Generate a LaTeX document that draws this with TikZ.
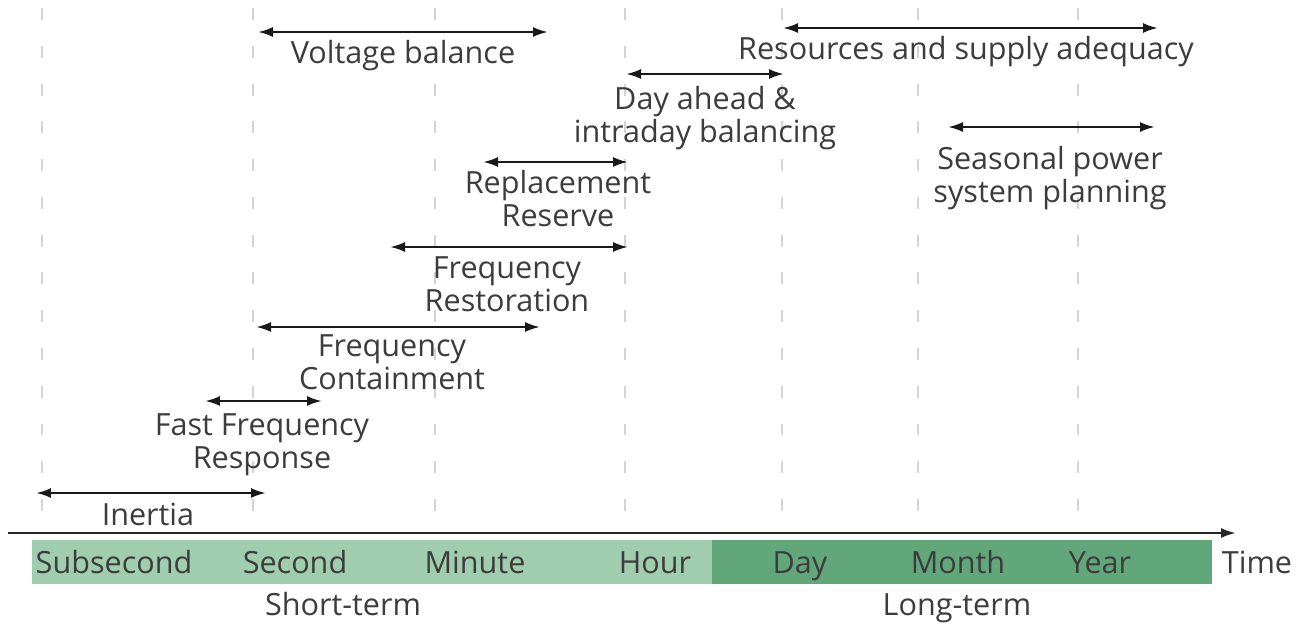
\documentclass[tikz,border=0pt]{standalone}
\usepackage{fontspec}
\setmainfont{Open Sans}
\usetikzlibrary{arrows.meta}

\definecolor{shortgreen}{HTML}{9FCDAE}
\definecolor{longgreen}{HTML}{62A77A}
\definecolor{txtgray}{HTML}{3C3C3C}
\definecolor{gridgray}{HTML}{D4D4D4}

\tikzstyle{span} = [{Latex[length=3mm,width=2mm]}-{Latex[length=3mm,width=2mm]},line width=1.35pt,draw=black!90]
\tikzstyle{lbl} = [align=center,text=txtgray,inner sep=0pt,anchor=base,font=\fontsize{17.4}{18.7}\selectfont]
\tikzstyle{gridline} = [draw=gridgray,line width=0.8pt,dash pattern=on 6.8pt off 14.7pt]

\begin{document}
\begin{tikzpicture}[x=0.02cm,y=-0.02cm]

	\useasboundingbox (0,0) rectangle (1305,626);

	% time scale
	\foreach \gx in {42,253,435,625,782,918,1078}
		\draw[gridline] (\gx,8) -- (\gx,530);

	\fill[shortgreen] (32,540) rectangle (712,584);
	\fill[longgreen] (712,540) rectangle (1212,584);

	\coordinate (ax-l) at (8,533);
	\coordinate (ax-r) at (1236,533);
	\draw[-{Latex[length=3mm,width=2mm]},line width=1.35pt,draw=black!85] (ax-l) -- (ax-r);

	\node (subsec) [lbl] at (114,573) {Subsecond};
	\node (sec) [lbl] at (295,573) {Second};
	\node (min) [lbl] at (475,573) {Minute};
	\node (hour) [lbl] at (655,573) {Hour};
	\node (day) [lbl] at (800,573) {Day};
	\node (month) [lbl] at (958,573) {Month};
	\node (year) [lbl] at (1100,573) {Year};
	\node (time) [lbl] at (1257,573) {Time};
	\node (short) [lbl] at (343,615) {Short-term};
	\node (long) [lbl] at (957,615) {Long-term};

	% services
	\coordinate (in_l) at (36,493);    \coordinate (in_r) at (266,493);
	\coordinate (ffr_l) at (205,401);  \coordinate (ffr_r) at (322,401);
	\coordinate (fc_l) at (256,327);   \coordinate (fc_r) at (540,327);
	\coordinate (fr_l) at (390,247);   \coordinate (fr_r) at (628,247);
	\coordinate (rr_l) at (483,162);   \coordinate (rr_r) at (628,162);
	\coordinate (da_l) at (626,74);    \coordinate (da_r) at (784,74);
	\coordinate (vb_l) at (258,32);    \coordinate (vb_r) at (548,32);
	\coordinate (ra_l) at (783,28);    \coordinate (ra_r) at (1158,28);
	\coordinate (sea_l) at (948,127);  \coordinate (sea_r) at (1155,127);

	\path
		(in_l) edge[span] (in_r)
		(ffr_l) edge[span] (ffr_r)
		(fc_l) edge[span] (fc_r)
		(fr_l) edge[span] (fr_r)
		(rr_l) edge[span] (rr_r)
		(da_l) edge[span] (da_r)
		(vb_l) edge[span] (vb_r)
		(ra_l) edge[span] (ra_r)
		(sea_l) edge[span] (sea_r)
		;

	% base = last line
	\node (in) [lbl] at (148,525) {Inertia};
	\node (ffr) [lbl] at (262,468) {Fast Frequency\\Response};
	\node (fc) [lbl] at (392,389) {Frequency\\Containment};
	\node (fr) [lbl] at (507,311) {Frequency\\Restoration};
	\node (rr) [lbl] at (558,226) {Replacement\\Reserve};
	\node (da) [lbl] at (705,142) {Day ahead \&\\intraday balancing};
	\node (vb) [lbl] at (403,63) {Voltage balance};
	\node (ra) [lbl] at (966,59) {Resources and supply adequacy};
	\node (sea) [lbl] at (1050,202) {Seasonal power\\system planning};

\end{tikzpicture}
\end{document}
